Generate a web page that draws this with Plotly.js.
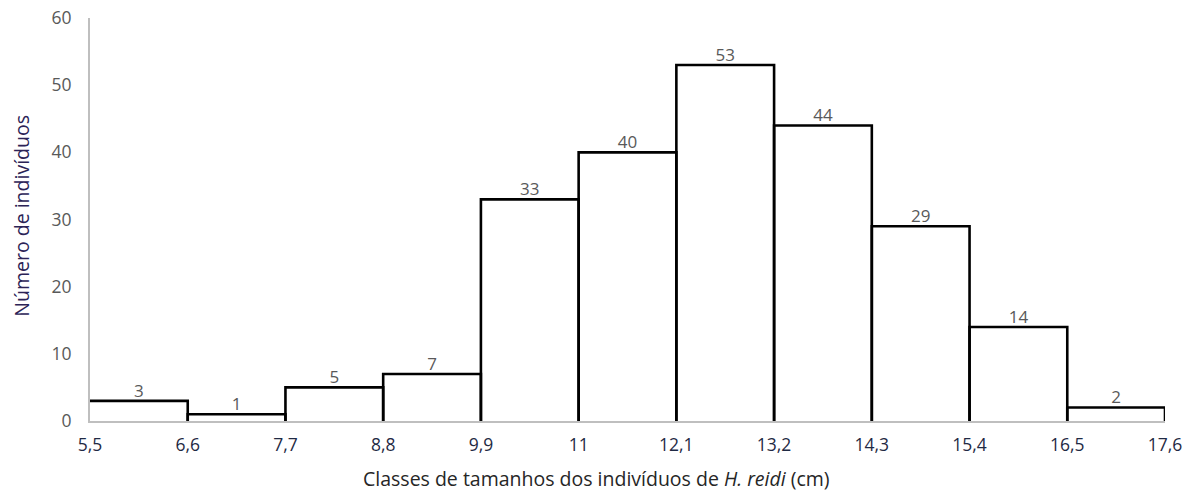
<!DOCTYPE html>
<html>
<head>
<meta charset="utf-8">
<script src="https://cdn.plot.ly/plotly-3.0.1.min.js"></script>
<style>html,body{margin:0;padding:0;background:#fff;}#chart{width:1203px;height:493px;}</style>
</head>
<body>
<div id="chart"></div>
<script>
// Data
const binEdges = [5.5, 6.6, 7.7, 8.8, 9.9, 11, 12.1, 13.2, 14.3, 15.4, 16.5, 17.6];
const edgeLabels = ["5,5", "6,6", "7,7", "8,8", "9,9", "11", "12,1", "13,2", "14,3", "15,4", "16,5", "17,6"];
const counts = [3, 1, 5, 7, 33, 40, 53, 44, 29, 14, 2];
const yTicks = [0, 10, 20, 30, 40, 50, 60];

// Build step outline from data
const ox = [], oy = [];
for (let i = 0; i < counts.length; i++) {
  const l = binEdges[i], r = binEdges[i + 1], v = counts[i];
  if (i > 0) { ox.push(l); oy.push(0); }
  ox.push(l); oy.push(v);
  ox.push(r); oy.push(v);
  ox.push(r); oy.push(0);
  ox.push(null); oy.push(null);
}
const centers = counts.map((_, i) => (binEdges[i] + binEdges[i + 1]) / 2);

const FONT = '"Open Sans", "Noto Sans", sans-serif';

const traces = [
  {
    type: 'scatter', mode: 'lines', x: ox, y: oy,
    line: {color: '#000000', width: 2.6, shape: 'linear'},
    hoverinfo: 'skip', connectgaps: false
  },
  {
    type: 'scatter', mode: 'text', x: centers, y: counts,
    text: counts.map(String), textposition: 'top center',
    textfont: {family: FONT, size: 17, color: '#595959'},
    hoverinfo: 'skip'
  }
];

const layout = {
  width: 1203, height: 493,
  margin: {l: 90, r: 38, t: 18, b: 72},
  paper_bgcolor: '#ffffff', plot_bgcolor: '#ffffff',
  showlegend: false,
  font: {family: FONT},
  xaxis: {
    range: [5.5, 17.6], tickmode: 'array', tickvals: binEdges, ticktext: edgeLabels,
    showgrid: false, zeroline: false, showline: true, linecolor: '#BFBFBF', linewidth: 2,
    ticks: '', ticklabelstandoff: 7,
    tickfont: {family: FONT, size: 17.5, color: '#1F2A44'},
    layer: 'below traces'
  },
  yaxis: {
    range: [0, 60], tickmode: 'array', tickvals: yTicks, ticktext: yTicks.map(String),
    showgrid: false, zeroline: false, showline: true, linecolor: '#BFBFBF', linewidth: 2,
    ticks: '', ticklabelstandoff: 13,
    tickfont: {family: FONT, size: 17.5, color: '#595959'},
    layer: 'below traces'
  },
  annotations: [
    {
      xref: 'paper', yref: 'paper', x: 0.471, y: -0.143, xanchor: 'center', yanchor: 'middle',
      text: 'Classes de tamanhos dos indivíduos de <i>H. reidi</i> (cm)', showarrow: false,
      font: {family: FONT, size: 19.5, color: '#262626'}
    },
    {
      xref: 'paper', yref: 'paper', x: -0.064, y: 0.51, xanchor: 'center', yanchor: 'middle',
      text: 'Número de indivíduos', textangle: -90, showarrow: false,
      font: {family: FONT, size: 19.5, color: '#2B2356'}
    }
  ]
};

Plotly.newPlot('chart', traces, layout, {staticPlot: true, displayModeBar: false});
</script>
</body>
</html>
